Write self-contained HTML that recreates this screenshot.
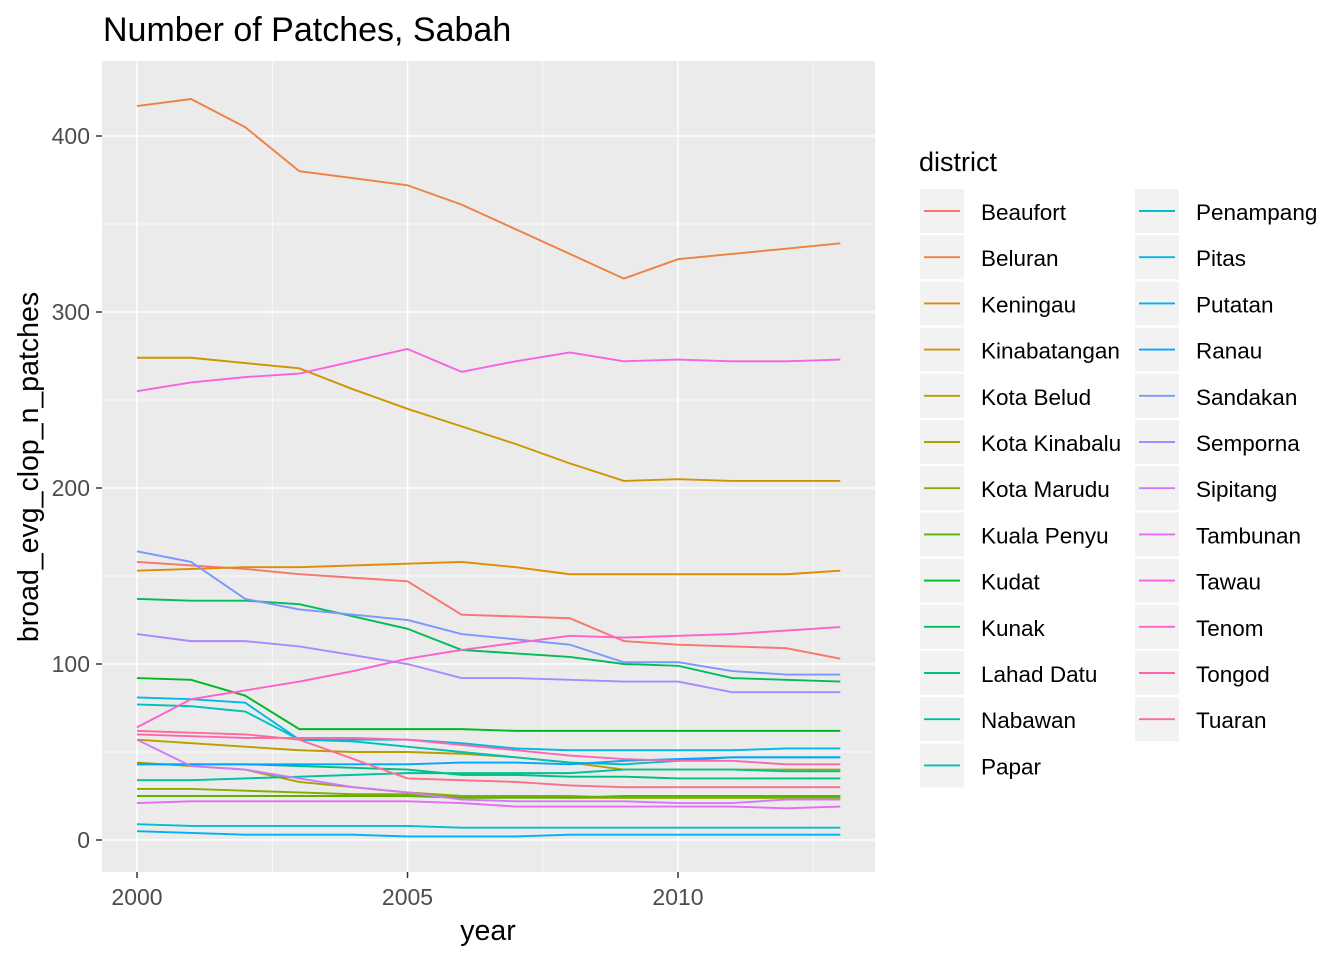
<!DOCTYPE html>
<html><head><meta charset="utf-8"><style>
body{margin:0;background:#fff;}
svg text{font-family:"Liberation Sans",Arial,sans-serif;}
</style></head><body>
<svg id="chart" width="1344" height="960" xmlns="http://www.w3.org/2000/svg">
<rect width="1344" height="960" fill="#fff"/>
<text x="103" y="41" font-size="34" fill="#000">Number of Patches, Sabah</text>
<rect x="102" y="61" width="773" height="811" fill="#EBEBEB"/>
<g id="grid"></g>
<g id="lines"></g>
<g id="axes"></g>
<text x="488" y="940" font-size="28.5" text-anchor="middle" fill="#000">year</text>
<text transform="translate(38,467) rotate(-90)" font-size="28.5" text-anchor="middle" fill="#000">broad_evg_clop_n_patches</text>
<text x="919" y="171" font-size="27" fill="#000">district</text>
<g id="legend"></g>
</svg>
<script>
const years=[2000,2001,2002,2003,2004,2005,2006,2007,2008,2009,2010,2011,2012,2013];
const districts=["Beaufort","Beluran","Keningau","Kinabatangan","Kota Belud","Kota Kinabalu","Kota Marudu","Kuala Penyu","Kudat","Kunak","Lahad Datu","Nabawan","Papar","Penampang","Pitas","Putatan","Ranau","Sandakan","Semporna","Sipitang","Tambunan","Tawau","Tenom","Tongod","Tuaran"];
const beaufort=[158,156,154,151,149,147,128,127,126,113,111,110,109,103];
const beluran=[417,421,405,380,376,372,361,347,333,319,330,333,336,339];
const keningau=[153,154,155,155,156,157,158,155,151,151,151,151,151,153];
const kinabatangan=[274,274,271,268,256,245,235,225,214,204,205,204,204,204];
const kotaBelud=[57,55,53,51,50,50,49,47,44,40,40,40,40,40];
const kotaKinabalu=[44,42,40,33,30,27,25,25,24,24,24,24,24,24];
const kotaMarudu=[29,29,28,27,26,26,25,25,25,24,24,24,24,24];
const kualaPenyu=[25,25,25,25,25,25,24,24,24,25,25,25,25,25];
const kudat=[92,91,82,63,63,63,63,62,62,62,62,62,62,62];
const kunak=[137,136,136,134,127,120,108,106,104,100,99,92,91,90];
const lahadDatu=[43,43,43,42,41,40,37,37,36,36,35,35,35,35];
const nabawan=[34,34,35,36,37,38,38,38,38,40,40,40,39,39];
const papar=[77,76,73,57,56,53,50,47,44,43,45,47,47,47];
const penampang=[9,8,8,8,8,8,7,7,7,7,7,7,7,7];
const pitas=[81,80,78,57,57,57,55,52,51,51,51,51,52,52];
const putatan=[5,4,3,3,3,2,2,2,3,3,3,3,3,3];
const ranau=[43,43,43,43,43,43,44,44,43,45,46,47,47,47];
const sandakan=[164,158,137,131,128,125,117,114,111,101,101,96,94,94];
const semporna=[117,113,113,110,105,100,92,92,91,90,90,84,84,84];
const sipitang=[57,42,40,35,30,27,23,22,22,22,21,21,23,23];
const tambunan=[21,22,22,22,22,22,21,19,19,19,19,19,18,19];
const tawau=[255,260,263,265,272,279,266,272,277,272,273,272,272,273];
const tenom=[64,80,85,90,96,103,108,112,116,115,116,117,119,121];
const tongod=[60,59,58,58,58,57,54,51,48,46,45,45,43,43];
const tuaran=[62,61,60,57,46,35,34,33,31,30,30,30,30,30];
const series=[beaufort,beluran,keningau,kinabatangan,kotaBelud,kotaKinabalu,kotaMarudu,kualaPenyu,kudat,kunak,lahadDatu,nabawan,papar,penampang,pitas,putatan,ranau,sandakan,semporna,sipitang,tambunan,tawau,tenom,tongod,tuaran];
const yTicks=[0,100,200,300,400];
const xTicks=[2000,2005,2010];

const NS="http://www.w3.org/2000/svg";
const X=y=>137+(y-2000)*54.1;
const Y=v=>840-v*1.76;
function hcl(h){const L=65,C=100,r=h*Math.PI/180;const u=C*Math.cos(r),v=C*Math.sin(r);
const Xn=95.047,Yn=100,Zn=108.883;const d=Xn+15*Yn+3*Zn;const un=4*Xn/d,vn=9*Yn/d;
const Yv=Yn*Math.pow((L+16)/116,3);const up=u/(13*L)+un,vp=v/(13*L)+vn;
const Xv=9*Yv*up/(4*vp),Zv=Yv*(12-3*up-20*vp)/(4*vp);
const x=Xv/100,y=Yv/100,z=Zv/100;
let rgb=[3.2404542*x-1.5371385*y-0.4985314*z,-0.9692660*x+1.8760108*y+0.0415560*z,0.0556434*x-0.2040259*y+1.0572252*z];
return 'rgb('+rgb.map(c=>{c=c<=0.0031308?12.92*c:1.055*Math.pow(c,1/2.4)-0.055;return Math.round(Math.max(0,Math.min(1,c))*255);}).join(',')+')';}
function mk(tag,attrs,parent){const e=document.createElementNS(NS,tag);for(const k in attrs)e.setAttribute(k,attrs[k]);parent.appendChild(e);return e;}
const grid=document.getElementById('grid'),axes=document.getElementById('axes'),lines=document.getElementById('lines'),legend=document.getElementById('legend');
for(let v=50;v<=450;v+=100){const l=mk('line',{x1:102,x2:875,y1:Y(v),y2:Y(v),stroke:'#fff','stroke-width':0.7},grid);

}
[2002.5,2007.5,2012.5].forEach(t=>{const l=mk('line',{x1:X(t),x2:X(t),y1:61,y2:872,stroke:'#fff','stroke-width':0.7},grid);

});
yTicks.forEach(v=>{const l=mk('line',{x1:102,x2:875,y1:Y(v),y2:Y(v),stroke:'#fff','stroke-width':1.5},grid);


const t=mk('line',{x1:96,x2:102,y1:Y(v),y2:Y(v),stroke:'#333','stroke-width':1.5},axes);


const tx=mk('text',{x:90,y:Y(v)+8,'font-size':23,'text-anchor':'end',fill:'#4D4D4D'},axes);tx.textContent=v;

});
xTicks.forEach(v=>{const l=mk('line',{x1:X(v),x2:X(v),y1:61,y2:872,stroke:'#fff','stroke-width':1.5},grid);


const t=mk('line',{x1:X(v),x2:X(v),y1:872,y2:878,stroke:'#333','stroke-width':1.5},axes);


const tx=mk('text',{x:X(v),y:905,'font-size':23,'text-anchor':'middle',fill:'#4D4D4D'},axes);tx.textContent=v;

});
series.forEach((s,i)=>{const col=hcl(15+i*360/25);
const p=mk('polyline',{points:s.map((v,j)=>X(years[j])+','+Y(v)).join(' '),fill:'none',stroke:col,'stroke-width':1.9},lines);


const col2=i<13?0:1,row=i<13?i:i-13;const bx=col2?1135:920,by=189+row*46.2;
const g=mk('g',{},legend);


mk('rect',{x:bx,y:by,width:44,height:44,fill:'#F2F2F2'},g);
mk('line',{x1:bx+4,x2:bx+40,y1:by+22,y2:by+22,stroke:col,'stroke-width':1.9},g);
const t=mk('text',{x:bx+61,y:by+31,'font-size':22.5,fill:'#000'},g);t.textContent=districts[i];});
</script>
</body></html>
